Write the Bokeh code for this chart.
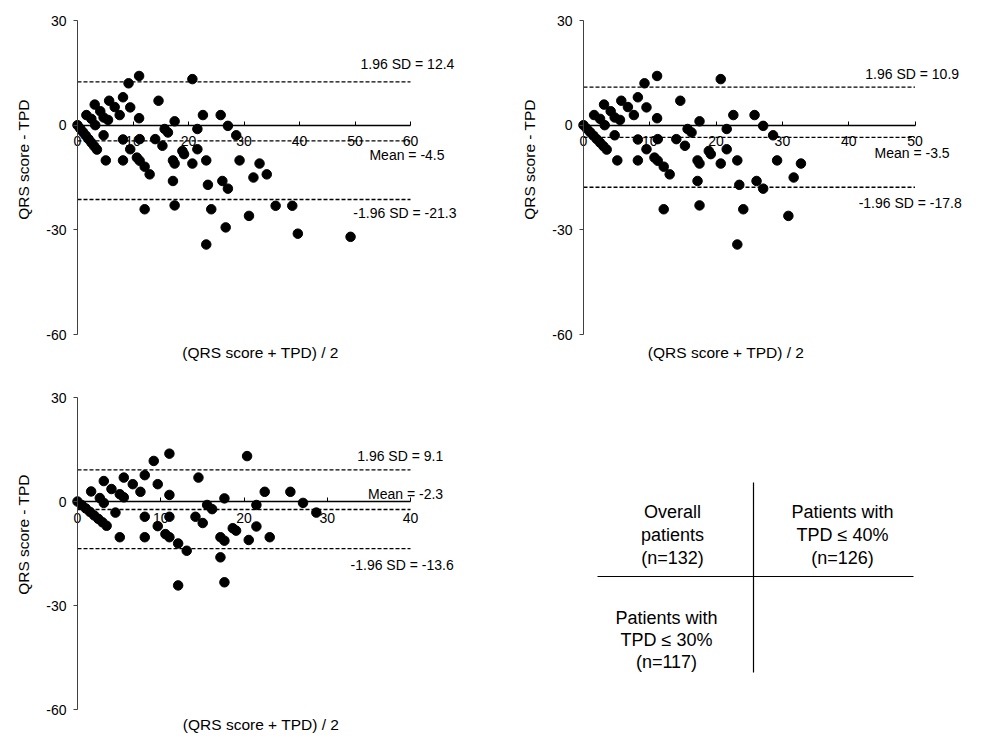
from bokeh.plotting import figure
from bokeh.models import Range1d, LinearAxis, FixedTicker, Label
from bokeh.layouts import column, row
from bokeh.embed import file_html
from bokeh.resources import INLINE
from bokeh.core.properties import value

FONT = "Liberation Sans"

# ---------------- data ----------------
# Panel 1: overall patients (n=132)
p1_mean = [0, 0.5, 1, 1.5, 2, 2.5, 3, 3.5, 1.6, 2.5, 3.2, 3.1, 4.1, 4.7, 5.5, 5.7, 6.7, 7.6,
           4.7, 5.1, 8.2, 9.5, 11.1, 9.2, 11.1, 8.2, 9.5, 8.2, 10.7, 11.2, 12.1, 13.0, 11.2, 12.1,
           14.0, 14.6, 15.3, 15.7, 16.3, 17.5, 17.2, 17.5, 17.2, 17.5, 18.9, 19.2, 20.7, 20.7,
           21.6, 21.6, 22.6, 23.2, 23.5, 24.1, 23.2, 25.8, 26.1, 27.1, 26.7, 27.1, 28.6, 29.2,
           30.9, 31.7, 32.8, 34.1, 35.7, 38.7, 39.7, 49.2]
p1_diff = [0, -1, -2, -3, -4, -5, -6, -7, 2.9, 1.8, 0, 5.9, 4.0, 2.2, 1.5, 7.0, 5.2, 2.9,
           -2.9, -10.1, 8.0, 5.1, 2.0, 12.0, 14.1, -4.1, -6.9, -10.1, -9.3, -10.2, -11.9, -14.1, -4.0, -24.1,
           -4.0, 7.0, -5.9, -1.1, -2.1, 1.1, -10.1, -11.0, -16.0, -23.0, -7.4, -8.3, -11.0, 13.2,
           -1.1, -6.9, 2.9, -10.1, -17.1, -24.1, -34.2, 2.9, -16.0, -18.2, -29.3, -0.2, -2.9, -10.1,
           -26.0, -15.0, -11.0, -14.1, -23.1, -23.1, -31.1, -32.0]

# Panel 2: patients with TPD <= 40% (n=126)
p2_mean = [0, 0.5, 1, 1.5, 2, 2.5, 3, 3.5, 1.6, 2.5, 3.2, 3.1, 4.1, 4.7, 5.5, 5.7, 6.7, 7.6,
           4.7, 5.1, 8.2, 9.5, 11.1, 9.2, 11.1, 8.2, 9.5, 8.2, 10.7, 11.2, 12.1, 13.0, 11.2, 12.1,
           14.0, 14.6, 15.3, 15.7, 16.3, 17.5, 17.2, 17.5, 17.2, 17.5, 18.9, 19.2, 20.7, 20.7,
           21.6, 21.6, 22.6, 23.2, 23.5, 24.1, 23.2, 25.8, 26.1, 27.1, 27.1, 28.6, 29.2,
           30.9, 31.7, 32.8]
p2_diff = [0, -1, -2, -3, -4, -5, -6, -7, 2.9, 1.8, 0, 5.9, 4.0, 2.2, 1.5, 7.0, 5.2, 2.9,
           -2.9, -10.1, 8.0, 5.1, 2.0, 12.0, 14.1, -4.1, -6.9, -10.1, -9.3, -10.2, -11.9, -14.1, -4.0, -24.1,
           -4.0, 7.0, -5.9, -1.1, -2.1, 1.1, -10.1, -11.0, -16.0, -23.0, -7.4, -8.3, -11.0, 13.2,
           -1.1, -6.9, 2.9, -10.1, -17.1, -24.1, -34.2, 2.9, -16.0, -18.2, -0.2, -2.9, -10.1,
           -26.0, -15.0, -11.0]

# Panel 3: patients with TPD <= 30% (n=117)
p3_mean = [0, 0.5, 1, 1.5, 2, 2.5, 3, 3.5, 1.64, 2.68, 3.16, 3.16, 4.08, 4.56, 5.08, 5.56, 5.08,
           5.56, 6.64, 7.56, 8.08, 9.16, 8.08, 8.08, 9.64, 9.64, 11.04, 11.04, 11.04, 10.56, 11.04,
           12.09, 13.12, 12.09, 14.17, 14.53, 15.04, 15.57, 16.17, 17.17, 17.65, 17.17, 17.65, 17.65,
           18.65, 19.05, 20.57, 20.37, 21.49, 21.49, 22.49, 23.09, 25.57, 27.09, 28.69]
p3_diff = [0, -1, -2, -3, -4, -5, -6, -7, 2.9, 1.0, -0.4, 5.9, 3.6, -3.2, 2.1, 1.2, -10.3,
           6.9, 5.0, 2.8, 7.6, 11.7, -4.4, -10.3, 5.0, -7.1, 13.8, 1.9, -4.4, -9.4, -10.3,
           -12.1, -14.2, -24.2, -4.4, 6.9, -6.2, -1.0, -2.2, -10.3, -11.3, -16.1, 0.9, -23.3,
           -7.7, -8.4, -11.1, 13.1, -1.0, -7.2, 2.8, -10.3, 2.8, -0.4, -3.2]

# Bland-Altman statistics: mean difference and limits of agreement
stats = {
    "p1": {"mean": -4.5, "hi": 12.4, "lo": -21.3},
    "p2": {"mean": -3.5, "hi": 10.9, "lo": -17.8},
    "p3": {"mean": -2.3, "hi": 9.1, "lo": -13.6},
}
x_max = {"p1": 60, "p2": 50, "p3": 40}
y_ticks = [-60, -30, 0, 30]
y_min, y_max = -60, 30
x_label = "(QRS score + TPD) / 2"
y_label = "QRS score - TPD"

table_cells = [
    ["Overall", "patients", "(n=132)"],
    ["Patients with", "TPD \u2264 40%", "(n=126)"],
    ["Patients with", "TPD \u2264 30%", "(n=117)"],
]


def fmt(v):
    return "%.1f" % v


def panel(xs, ys, key, width, height, x0_px, xscale, ytop_px, yscale, xl_center, yl_center,
          xl_std, lbl):
    st = stats[key]
    xm = x_max[key]
    xs0 = -x0_px / xscale
    xe0 = xs0 + width / xscale
    ye0 = y_max + ytop_px / yscale
    ys0 = ye0 - height / yscale
    p = figure(width=width, height=height, x_range=Range1d(xs0, xe0), y_range=Range1d(ys0, ye0),
               output_backend="svg", toolbar_location=None,
               x_axis_location=None, y_axis_location=None,
               min_border_left=0, min_border_top=0, min_border_right=0, min_border_bottom=0)
    p.outline_line_color = None
    p.background_fill_color = "white"
    p.grid.visible = False

    overrides = {t: str(t) for t in y_ticks}
    yax = LinearAxis(ticker=FixedTicker(ticks=y_ticks), fixed_location=0, bounds=(y_min, y_max),
                     axis_line_color="#404040", axis_line_width=1,
                     major_tick_line_color="#404040", major_tick_out=4, major_tick_in=0,
                     minor_tick_out=0, minor_tick_in=0, major_label_standoff=7,
                     major_label_overrides=overrides,
                     major_label_text_font=FONT, major_label_text_font_size="14px",
                     major_label_text_color="black")
    p.add_layout(yax, "left")

    ylab = LinearAxis(ticker=FixedTicker(ticks=[]), fixed_location=0,
                      bounds=(yl_center - 20, yl_center + 20), axis_label=y_label,
                      axis_line_color=None, major_tick_out=0, major_tick_in=0,
                      minor_tick_out=0, minor_tick_in=0, major_label_standoff=0,
                      major_label_text_font_size="0px", axis_label_standoff=46,
                      axis_label_text_font=FONT, axis_label_text_font_size="15.5px",
                      axis_label_text_font_style="normal", axis_label_text_color="black")
    p.add_layout(ylab, "left")

    xax = LinearAxis(ticker=FixedTicker(ticks=list(range(0, xm + 1, 10))), fixed_location=0,
                     bounds=(0, xm),
                     axis_line_color="black", axis_line_width=1.5,
                     major_tick_line_color="black", major_tick_in=4, major_tick_out=0,
                     minor_tick_out=0, minor_tick_in=0, major_label_standoff=11,
                     major_label_text_font=FONT, major_label_text_font_size="14px",
                     major_label_text_color="black")
    p.add_layout(xax, "below")

    xlab = LinearAxis(ticker=FixedTicker(ticks=[]), fixed_location=y_min,
                      bounds=(xl_center - 5, xl_center + 5), axis_label=x_label,
                      axis_line_color=None, major_tick_out=0, major_tick_in=0,
                      minor_tick_out=0, minor_tick_in=0, major_label_standoff=0,
                      major_label_text_font_size="0px", axis_label_standoff=xl_std,
                      axis_label_text_font=FONT, axis_label_text_font_size="15.5px",
                      axis_label_text_font_style="normal", axis_label_text_color="black")
    p.add_layout(xlab, "below")

    for k in ("hi", "mean", "lo"):
        p.line([0, xm], [st[k], st[k]], line_color="black", line_width=1.3, line_dash="4 2")

    p.scatter(xs, ys, size=9.5, color="black", line_color="black")

    texts = {"hi": "1.96 SD = " + fmt(st["hi"]),
             "mean": "Mean = " + fmt(st["mean"]),
             "lo": "-1.96 SD = " + fmt(st["lo"])}
    for k in ("hi", "mean", "lo"):
        lx, off = lbl[k]
        p.add_layout(Label(x=lx, y=st[k], y_offset=off, text=texts[k], text_font=FONT,
                           text_font_size="14px", text_color="black", text_baseline="middle",
                           text_align="left"))
    return p


p1 = panel(p1_mean, p1_diff, "p1", 490, 362, 77, 5.55, 20, 3.489, 33.0, -9.9, 9,
           {"hi": (51.0, 18), "mean": (52.6, -14), "lo": (49.7, -14)})
p2 = panel(p2_mean, p2_diff, "p2", 495, 362, 93, 6.63, 20, 3.489, 21.5, -9.9, 9,
           {"hi": (42.5, 13), "mean": (43.9, -16), "lo": (41.5, -16)})
p3 = panel(p3_mean, p3_diff, "p3", 490, 378, 77, 8.325, 35, 3.467, 22.0, -9.5, 6,
           {"hi": (33.6, 14), "mean": (34.9, 15), "lo": (32.8, -16)})

# table of panel identities (bottom right)
p4 = figure(width=495, height=378, x_range=Range1d(0, 495), y_range=Range1d(378, 0),
            output_backend="svg", toolbar_location=None,
            x_axis_location=None, y_axis_location=None,
            min_border_left=0, min_border_right=0, min_border_top=0, min_border_bottom=0)
p4.outline_line_color = None
p4.grid.visible = False
vline_x, vline_y = [263, 263], [120, 310]
hline_x, hline_y = [107, 423], [214, 214]
p4.line(vline_x, vline_y, line_color="black", line_width=1.2)
p4.line(hline_x, hline_y, line_color="black", line_width=1.2)
cell_pos = [(182, [149, 172, 195]), (352, [149, 172, 195]), (176, [255, 277, 299])]
for (cx, cys), lines in zip(cell_pos, table_cells):
    p4.text(x=[cx] * 3, y=cys, text=lines, text_font=value(FONT), text_font_size="18px",
            text_align="center", text_baseline="middle", text_color="black")

layout = column(row(p1, p2), row(p3, p4))
open("out.html", "w").write(file_html(layout, INLINE))
